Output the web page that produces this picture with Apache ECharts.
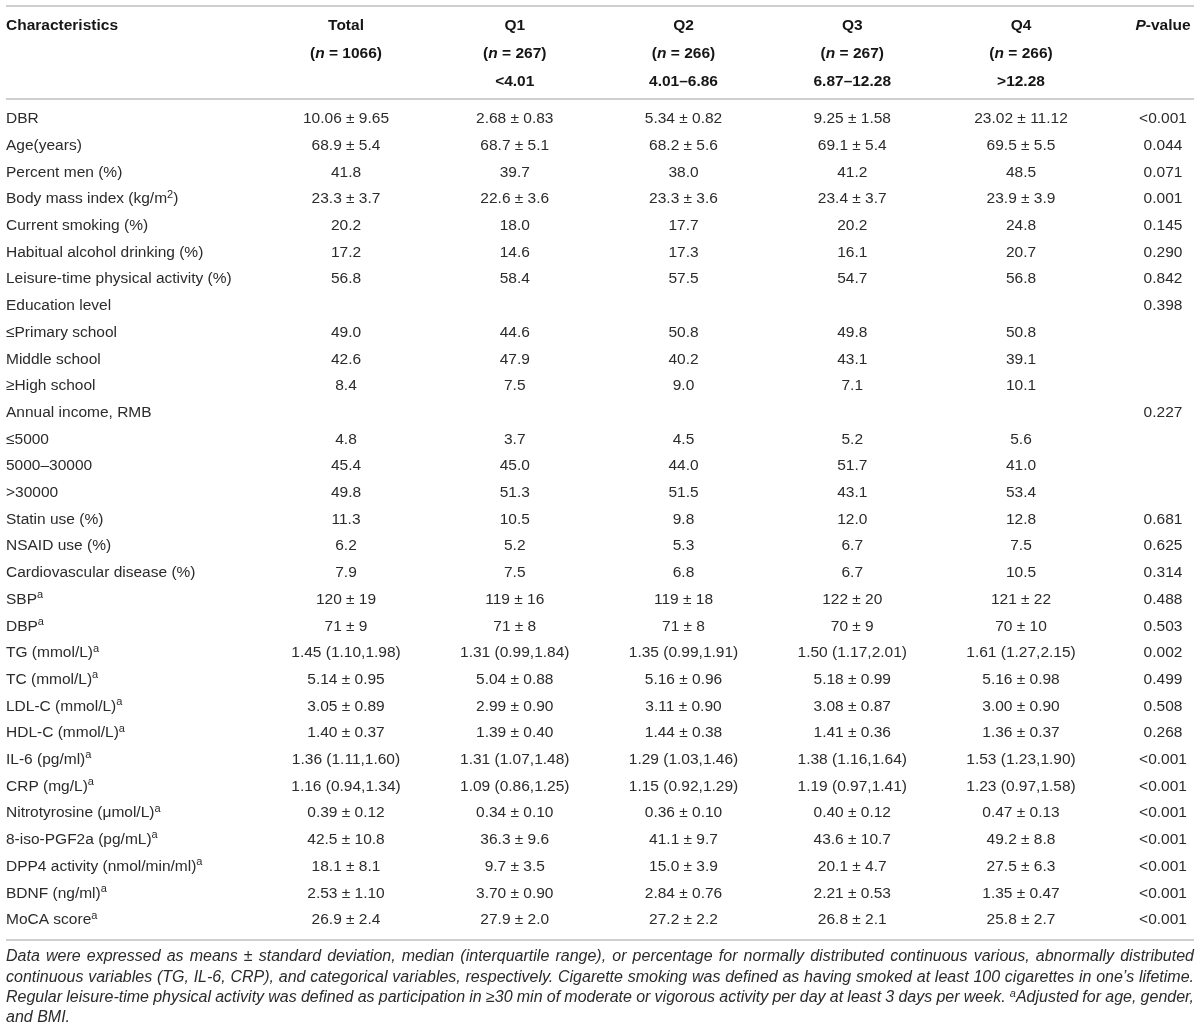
<!DOCTYPE html>
<html>
<head>
<meta charset="utf-8">
<script src="https://cdn.jsdelivr.net/npm/echarts@6/dist/echarts.min.js"></script>
<style>
  html, body { margin: 0; padding: 0; background: #fff; }
  #main { width: 1200px; height: 1031px; }
</style>
</head>
<body>
<div id="main"></div>
<script>
// table content
var characteristics = ['DBR', 'Age(years)', 'Percent men (%)', 'Body mass index (kg/m^2)', 'Current smoking (%)',
    'Habitual alcohol drinking (%)', 'Leisure-time physical activity (%)', 'Education level', '≤Primary school',
    'Middle school', '≥High school', 'Annual income, RMB', '≤5000', '5000–30000', '>30000', 'Statin use (%)',
    'NSAID use (%)', 'Cardiovascular disease (%)', 'SBP', 'DBP', 'TG (mmol/L)', 'TC (mmol/L)', 'LDL-C (mmol/L)',
    'HDL-C (mmol/L)', 'IL-6 (pg/ml)', 'CRP (mg/L)', 'Nitrotyrosine (μmol/L)', '8-iso-PGF2a (pg/mL)',
    'DPP4 activity (nmol/min/ml)', 'BDNF (ng/ml)', 'MoCA score'];
// 1 = adjusted for age, gender and BMI (superscript a)
var adjusted = [0,0,0,0,0,0,0,0,0,0,0,0,0,0,0,0,0,0,1,1,1,1,1,1,1,1,1,1,1,1,1];

var groups = ['Total', 'Q1', 'Q2', 'Q3', 'Q4'];
var groupN = [1066, 267, 266, 267, 266];
var groupRange = ['', '<4.01', '4.01–6.86', '6.87–12.28', '>12.28'];

var total = ['10.06 ± 9.65', '68.9 ± 5.4', '41.8', '23.3 ± 3.7', '20.2', '17.2', '56.8', '', '49.0', '42.6', '8.4', '',
    '4.8', '45.4', '49.8', '11.3', '6.2', '7.9', '120 ± 19', '71 ± 9', '1.45 (1.10,1.98)', '5.14 ± 0.95', '3.05 ± 0.89',
    '1.40 ± 0.37', '1.36 (1.11,1.60)', '1.16 (0.94,1.34)', '0.39 ± 0.12', '42.5 ± 10.8', '18.1 ± 8.1', '2.53 ± 1.10', '26.9 ± 2.4'];
var q1 = ['2.68 ± 0.83', '68.7 ± 5.1', '39.7', '22.6 ± 3.6', '18.0', '14.6', '58.4', '', '44.6', '47.9', '7.5', '',
    '3.7', '45.0', '51.3', '10.5', '5.2', '7.5', '119 ± 16', '71 ± 8', '1.31 (0.99,1.84)', '5.04 ± 0.88', '2.99 ± 0.90',
    '1.39 ± 0.40', '1.31 (1.07,1.48)', '1.09 (0.86,1.25)', '0.34 ± 0.10', '36.3 ± 9.6', '9.7 ± 3.5', '3.70 ± 0.90', '27.9 ± 2.0'];
var q2 = ['5.34 ± 0.82', '68.2 ± 5.6', '38.0', '23.3 ± 3.6', '17.7', '17.3', '57.5', '', '50.8', '40.2', '9.0', '',
    '4.5', '44.0', '51.5', '9.8', '5.3', '6.8', '119 ± 18', '71 ± 8', '1.35 (0.99,1.91)', '5.16 ± 0.96', '3.11 ± 0.90',
    '1.44 ± 0.38', '1.29 (1.03,1.46)', '1.15 (0.92,1.29)', '0.36 ± 0.10', '41.1 ± 9.7', '15.0 ± 3.9', '2.84 ± 0.76', '27.2 ± 2.2'];
var q3 = ['9.25 ± 1.58', '69.1 ± 5.4', '41.2', '23.4 ± 3.7', '20.2', '16.1', '54.7', '', '49.8', '43.1', '7.1', '',
    '5.2', '51.7', '43.1', '12.0', '6.7', '6.7', '122 ± 20', '70 ± 9', '1.50 (1.17,2.01)', '5.18 ± 0.99', '3.08 ± 0.87',
    '1.41 ± 0.36', '1.38 (1.16,1.64)', '1.19 (0.97,1.41)', '0.40 ± 0.12', '43.6 ± 10.7', '20.1 ± 4.7', '2.21 ± 0.53', '26.8 ± 2.1'];
var q4 = ['23.02 ± 11.12', '69.5 ± 5.5', '48.5', '23.9 ± 3.9', '24.8', '20.7', '56.8', '', '50.8', '39.1', '10.1', '',
    '5.6', '41.0', '53.4', '12.8', '7.5', '10.5', '121 ± 22', '70 ± 10', '1.61 (1.27,2.15)', '5.16 ± 0.98', '3.00 ± 0.90',
    '1.36 ± 0.37', '1.53 (1.23,1.90)', '1.23 (0.97,1.58)', '0.47 ± 0.13', '49.2 ± 8.8', '27.5 ± 6.3', '1.35 ± 0.47', '25.8 ± 2.7'];
var pValues = ['<0.001', '0.044', '0.071', '0.001', '0.145', '0.290', '0.842', '0.398', '', '', '', '0.227', '', '', '',
    '0.681', '0.625', '0.314', '0.488', '0.503', '0.002', '0.499', '0.508', '0.268', '<0.001', '<0.001', '<0.001',
    '<0.001', '<0.001', '<0.001', '<0.001'];

var footnote = [
    'Data were expressed as means ± standard deviation, median (interquartile range), or percentage for normally distributed continuous various, abnormally distributed',
    'continuous variables (TG, IL-6, CRP), and categorical variables, respectively. Cigarette smoking was defined as having smoked at least 100 cigarettes in one’s lifetime.',
    'Regular leisure-time physical activity was defined as participation in ≥30 min of moderate or vigorous activity per day at least 3 days per week. ^aAdjusted for age, gender,',
    'and BMI.'
];

// layout (pixels)
var W = 1200, H = 1031, PAD = 6;
var FONT = '"Liberation Sans", Arial, sans-serif';
var TEXT = '#2b2b2b', HEAD = '#161616';
var ROW_H = 26.7, FIRST_ROW_Y = 119;
var COL_W = 168.75, FIRST_COL_X = 346;
var xMin = -(FIRST_COL_X - PAD) / COL_W, xMax = xMin + (W - 2 * PAD) / COL_W;
var yMin = -FIRST_ROW_Y / ROW_H, yMax = yMin + H / ROW_H;
function rowAt(px) { return (px - FIRST_ROW_Y) / ROW_H; }
var colPos = [0, 1, 2, 3, 4, (1163 - FIRST_COL_X) / COL_W];
var headerRows = [rowAt(26), rowAt(54), rowAt(82)];
var rules = [rowAt(6), rowAt(99), rowAt(940)];
var noteY = [957, 978, 998, 1018];

var RICH = {
    n: { fontSize: 15.5, fontFamily: FONT, fill: TEXT, lineHeight: 20 },
    sup: { fontSize: 11, fontFamily: FONT, fill: TEXT, lineHeight: 12, verticalAlign: 'top' },
    b: { fontSize: 15.5, fontFamily: FONT, fontWeight: 'bold', fill: HEAD, lineHeight: 20 },
    bi: { fontSize: 15.5, fontFamily: FONT, fontWeight: 'bold', fontStyle: 'italic', fill: HEAD, lineHeight: 20 }
};

// build the cells from the arrays
var cells = [];
function addCell(x, y, text, align) { cells.push({ x: x, y: y, text: text, align: align }); }

addCell(xMin, headerRows[0], '{b|Characteristics}', 'left');
groups.forEach(function (g, i) {
    addCell(colPos[i], headerRows[0], '{b|' + g + '}', 'center');
    addCell(colPos[i], headerRows[1], '{b|(}{bi|n}{b| = ' + groupN[i] + ')}', 'center');
    if (groupRange[i]) addCell(colPos[i], headerRows[2], '{b|' + groupRange[i] + '}', 'center');
});
addCell(colPos[5], headerRows[0], '{bi|P}{b|-value}', 'center');

var columns = [total, q1, q2, q3, q4, pValues];
characteristics.forEach(function (name, r) {
    var label = '{n|' + name.replace(/\^(\w)/g, '}{sup|$1}{n|') + '}';
    if (adjusted[r]) label += '{sup|a}';
    addCell(xMin, r, label, 'left');
    columns.forEach(function (col, c) {
        if (col[r]) addCell(colPos[c], r, '{n|' + col[r] + '}', 'center');
    });
});

// footnote, justified word by word
var measureCtx = document.createElement('canvas').getContext('2d');
function textWidth(t, size) {
    measureCtx.font = 'italic ' + size + 'px ' + FONT;
    return measureCtx.measureText(t).width;
}
function wordWidth(w, size) {
    if (w.indexOf('^a') === 0) return textWidth('a', size * 0.68) + textWidth(w.slice(2), size);
    return textWidth(w, size);
}
var target = W - 2 * PAD;
var NOTE_SIZE = 16;
// shrink until every justified line keeps a reasonable word gap
while (NOTE_SIZE > 12 && footnote.slice(0, 3).some(function (line) {
    var words = line.split(' ');
    var sum = words.reduce(function (a, w) { return a + wordWidth(w, NOTE_SIZE); }, 0);
    return sum + (words.length - 1) * textWidth(' ', NOTE_SIZE) * 0.8 > target;
})) { NOTE_SIZE -= 0.25; }

var noteGraphics = [];
footnote.forEach(function (line, li) {
    var words = line.split(' ');
    var widths = words.map(function (w) { return wordWidth(w, NOTE_SIZE); });
    var sum = widths.reduce(function (a, b) { return a + b; }, 0);
    var last = li === footnote.length - 1;
    var gap = last ? textWidth(' ', NOTE_SIZE) : (target - sum) / (words.length - 1);
    var x = PAD;
    words.forEach(function (w, wi) {
        var txt = w.indexOf('^a') === 0 ? '{s|a}{i|' + w.slice(2) + '}' : '{i|' + w + '}';
        noteGraphics.push({
            type: 'text', x: x, y: noteY[li], silent: true,
            style: {
                text: txt, verticalAlign: 'middle', align: 'left',
                rich: {
                    i: { fontSize: NOTE_SIZE, fontStyle: 'italic', fontFamily: FONT, fill: TEXT, lineHeight: 20 },
                    s: { fontSize: NOTE_SIZE * 0.68, fontStyle: 'italic', fontFamily: FONT, fill: TEXT, lineHeight: 11, verticalAlign: 'top' }
                }
            }
        });
        x += widths[wi] + gap;
    });
});

var chart = echarts.init(document.getElementById('main'), null, { renderer: 'canvas' });
chart.setOption({
    backgroundColor: '#fff',
    animation: false,
    grid: { left: PAD, right: PAD, top: 0, bottom: 0 },
    xAxis: { type: 'value', min: xMin, max: xMax, show: false },
    yAxis: { type: 'value', min: yMin, max: yMax, inverse: true, show: false },
    graphic: noteGraphics,
    series: [{
        type: 'custom',
        silent: true,
        data: cells.map(function (c, i) { return [c.x, c.y, i]; }),
        renderItem: function (params, api) {
            var cell = cells[api.value(2)];
            var pt = api.coord([api.value(0), api.value(1)]);
            return {
                type: 'text',
                x: pt[0], y: pt[1],
                style: {
                    text: cell.text, rich: RICH,
                    align: cell.align, verticalAlign: 'middle',
                    fontSize: 15.5, fontFamily: FONT, fill: TEXT
                }
            };
        },
        markLine: {
            silent: true, symbol: 'none', animation: false,
            label: { show: false },
            lineStyle: { color: '#cfcfcf', width: 1.8, type: 'solid' },
            data: rules.map(function (v) { return { yAxis: v }; })
        }
    }]
});
</script>
</body>
</html>
